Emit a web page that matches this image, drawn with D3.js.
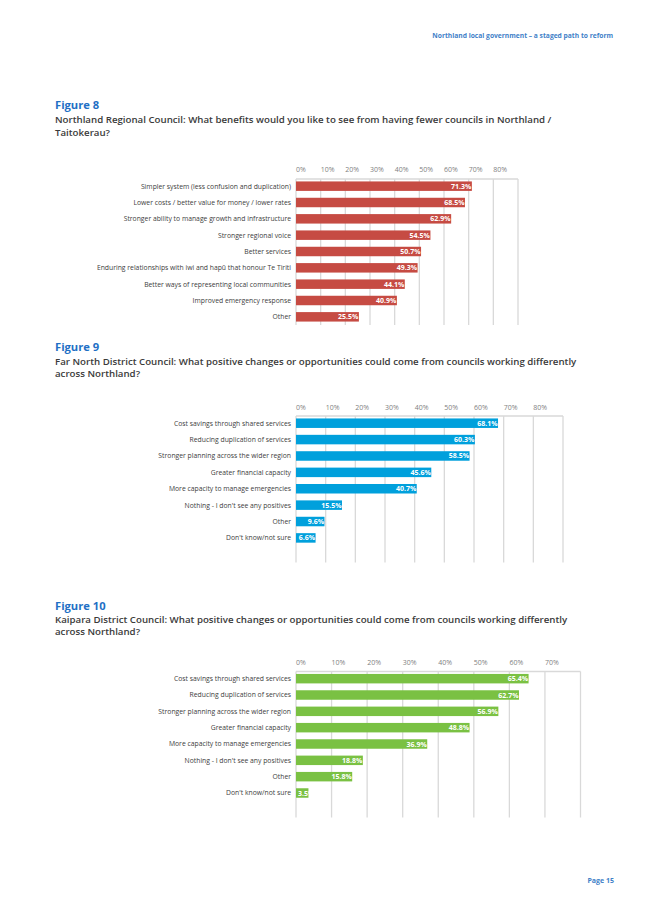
<!DOCTYPE html>
<html>
<head>
<meta charset="utf-8">
<script src="https://cdn.jsdelivr.net/npm/d3@7"></script>
<style>
  body { margin: 0; background: #fff; }
  svg text { font-family: 'Open Sans', sans-serif; }
</style>
</head>
<body>
<div id="wrapper"></div>
<script>
// data
const fig8Categories = [
  'Simpler system (less confusion and duplication)',
  'Lower costs / better value for money / lower rates',
  'Stronger ability to manage growth and infrastructure',
  'Stronger regional voice',
  'Better services',
  'Enduring relationships with iwi and hapū that honour Te Tiriti',
  'Better ways of representing local communities',
  'Improved emergency response',
  'Other'
]
const fig8Values = [71.3, 68.5, 62.9, 54.5, 50.7, 49.3, 44.1, 40.9, 25.5]

const fig9Categories = [
  'Cost savings through shared services',
  'Reducing duplication of services',
  'Stronger planning across the wider region',
  'Greater financial capacity',
  'More capacity to manage emergencies',
  'Nothing - I don\'t see any positives',
  'Other',
  'Don\'t know/not sure'
]
const fig9Values = [68.1, 60.3, 58.5, 45.6, 40.7, 15.5, 9.6, 6.6]

const fig10Categories = fig9Categories.slice()
const fig10Values = [65.4, 62.7, 56.9, 48.8, 36.9, 18.8, 15.8, 3.5]

const fig8Ticks = [0, 10, 20, 30, 40, 50, 60, 70, 80]
const fig9Ticks = [0, 10, 20, 30, 40, 50, 60, 70, 80]
const fig10Ticks = [0, 10, 20, 30, 40, 50, 60, 70]

const figures = [
  {
    name: 'Figure 8',
    subtitle: ['Northland Regional Council: What benefits would you like to see from having fewer councils in Northland /', 'Taitokerau?'],
    categories: fig8Categories, values: fig8Values, ticks: fig8Ticks,
    xMax: 90, color: '#c64b43',
    titleY: 109, subY: 123.3, tickY: 172, top: 178, bottom: 325, right: 518, bands: 9
  },
  {
    name: 'Figure 9',
    subtitle: ['Far North District Council: What positive changes or opportunities could come from councils working differently', 'across Northland?'],
    categories: fig9Categories, values: fig9Values, ticks: fig9Ticks,
    xMax: 90, color: '#00a0dc',
    titleY: 350.5, subY: 364.5, tickY: 409.5, top: 415, bottom: 562.5, right: 563, bands: 9
  },
  {
    name: 'Figure 10',
    subtitle: ['Kaipara District Council: What positive changes or opportunities could come from councils working differently', 'across Northland?'],
    categories: fig10Categories, values: fig10Values, ticks: fig10Ticks,
    xMax: 80, color: '#7ac143',
    titleY: 609.5, subY: 622.5, tickY: 664.5, top: 670.5, bottom: 817.5, right: 580.5, bands: 9
  }
]

const width = 645
const height = 912
const plotLeft = 296
const textLeft = 55

const svg = d3.select('#wrapper')
  .append('svg')
    .attr('width', width)
    .attr('height', height)

// page header / footer
svg.append('text')
  .attr('x', 613).attr('y', 38)
  .attr('text-anchor', 'end')
  .attr('font-size', 6.7)
  .attr('font-weight', 700)
  .attr('fill', '#3f7fc8')
  .text('Northland local government – a staged path to reform')

svg.append('text')
  .attr('x', 614).attr('y', 883)
  .attr('text-anchor', 'end')
  .attr('font-size', 7)
  .attr('font-weight', 700)
  .attr('fill', '#3f7fc8')
  .text('Page 15')

function drawFigure(fig) {
  const g = svg.append('g')

  g.append('text')
    .attr('x', textLeft).attr('y', fig.titleY)
    .attr('font-size', 11.2)
    .attr('font-weight', 700)
    .attr('fill', '#1f6fc5')
    .text(fig.name)

  g.selectAll('.sub')
    .data(fig.subtitle)
    .enter().append('text')
      .attr('class', 'sub')
      .attr('x', textLeft)
      .attr('y', (d, i) => fig.subY + i * 12.6)
      .attr('font-size', 9.7)
      .attr('font-weight', 600)
      .attr('fill', '#3a3a3a')
      .text(d => d)

  const x = d3.scaleLinear()
    .domain([0, fig.xMax])
    .range([plotLeft, fig.right])

  const y = d3.scaleBand()
    .domain(d3.range(fig.bands))
    .range([fig.top, fig.bottom])
    .paddingInner(0.42)
    .paddingOuter(0.21)

  // grid
  const gridVals = d3.range(0, fig.xMax + 1, 10)
  g.selectAll('.grid')
    .data(gridVals)
    .enter().append('line')
      .attr('class', 'grid')
      .attr('x1', d => x(d)).attr('x2', d => x(d))
      .attr('y1', fig.top + 1).attr('y2', fig.bottom)
      .attr('stroke', '#d9d9d9')
      .attr('stroke-width', 1.3)

  g.append('line')
    .attr('x1', plotLeft).attr('x2', fig.right)
    .attr('y1', fig.top + 1).attr('y2', fig.top + 1)
    .attr('stroke', '#d9d9d9')
    .attr('stroke-width', 1.3)

  // tick labels sit just right of each gridline
  g.selectAll('.tick')
    .data(fig.ticks)
    .enter().append('text')
      .attr('class', 'tick')
      .attr('x', d => x(d))
      .attr('y', fig.tickY)
      .attr('font-size', 7)
      .attr('fill', '#7f7f7f')
      .text(d => d + '%')

  // category labels
  g.selectAll('.cat')
    .data(fig.categories)
    .enter().append('text')
      .attr('class', 'cat')
      .attr('x', plotLeft - 5)
      .attr('y', (d, i) => y(i) + y.bandwidth() / 2)
      .attr('dy', '0.35em')
      .attr('text-anchor', 'end')
      .attr('font-size', 6.8)
      .attr('fill', '#404040')
      .text(d => d)

  // bars
  g.selectAll('.bar')
    .data(fig.values)
    .enter().append('rect')
      .attr('class', 'bar')
      .attr('x', x(0))
      .attr('y', (d, i) => y(i))
      .attr('width', d => x(d) - x(0))
      .attr('height', y.bandwidth())
      .attr('fill', fig.color)

  const labels = g.selectAll('.val')
    .data(fig.values)
    .enter().append('text')
      .attr('class', 'val')
      .attr('y', (d, i) => y(i) + y.bandwidth() / 2)
      .attr('dy', '0.36em')
      .attr('text-anchor', 'end')
      .attr('font-size', 7)
      .attr('font-weight', 700)
      .attr('fill', '#fff')
      .text(d => d.toFixed(1) + '%')

  // keep short labels from spilling left of the axis
  labels.each(function(d) {
    const w = this.getComputedTextLength()
    const end = Math.max(x(d) - 0.5, x(0) + 2 + w)
    d3.select(this).attr('x', end)
  })
}

figures.forEach(drawFigure)
</script>
</body>
</html>
